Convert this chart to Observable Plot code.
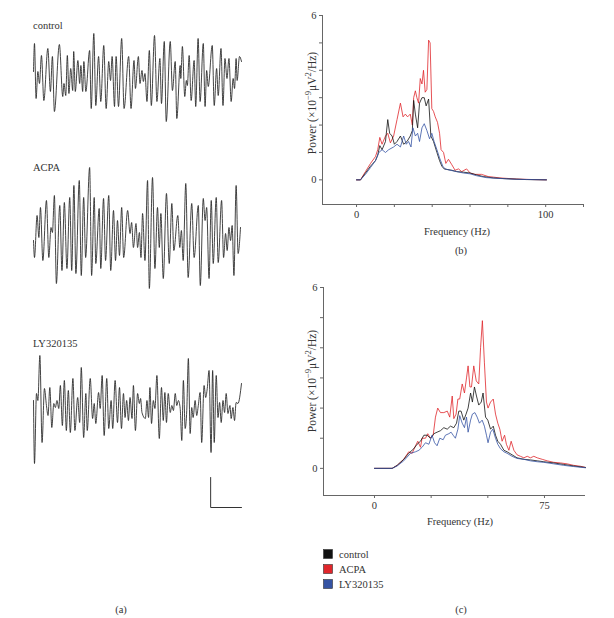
<!DOCTYPE html>
<html>
<head>
<meta charset="utf-8">
<script src="https://cdn.jsdelivr.net/npm/d3@7"></script>
<script src="https://cdn.jsdelivr.net/npm/@observablehq/plot@0.6"></script>
<style>
  html, body { margin: 0; padding: 0; background: #fff; }
  #fig { position: relative; width: 614px; height: 618px; background: #fff; overflow: hidden; }
  #fig svg { position: absolute; }
</style>
</head>
<body>
<div id="fig"></div>
<script>
// ---------------- DATA ----------------
// (a) EEG traces: time (ms, arbitrary) and amplitude (a.u.) of successive extrema
const controlT = [0,5,13,22,30,40,52,72,85,95,105,130,147,153,162,170,178,187,197,202,210,223,232,238,247,253,263,282,290,303,313,327,338,353,365,378,387,395,407,415,427,443,455,478,490,505,512,527,535,545,552,560,570,582,592,608,620,635,643,657,667,687,698,712,720,737,740,748,760,768,773,782,792,807,815,827,837,853,862,870,878,898,908,920,928,942,952,962,972,982,993,1003,1010,1018,1023,1035,1045];
const controlAmp = [6,34,-21,6,-6,22,-23,29,-14,21,-34,33,-19,-6,-18,22,-16,9,-13,26,-14,17,-6,12,-14,16,-14,27,-31,44,-28,21,-24,32,-31,16,-3,21,-29,21,-29,39,-31,21,-31,17,-11,21,-6,7,-4,4,-24,27,-28,42,-24,19,-26,36,-44,36,-13,16,-41,12,-1,31,-19,-3,-8,22,-23,17,-29,39,-24,34,-29,7,-9,32,-28,9,-18,29,-28,19,-1,19,-24,-1,-11,19,-3,21,16];

const acpaT = [0,5,18,27,35,47,65,77,88,95,105,115,132,143,155,168,182,192,203,213,230,240,252,262,282,292,305,313,330,338,352,362,378,388,402,412,422,432,443,453,473,485,493,502,515,523,532,540,548,560,573,582,598,610,623,632,640,652,668,682,695,705,725,735,743,752,765,777,795,807,828,838,853,862,870,882,893,903,918,928,945,955,965,973,982,990,998,1007,1018,1028,1040];
const acpaAmp = [-12,-29,13,-9,21,-32,28,-29,1,-4,33,-55,23,-42,26,-40,31,-42,43,-45,48,-47,31,-29,61,-47,31,-35,20,-40,30,-32,33,-42,18,-32,8,-27,21,-29,18,-5,6,-19,5,-19,-4,-29,15,-32,48,-60,51,-40,21,-19,15,-50,35,-35,25,-22,13,-19,-2,-32,45,-49,25,-29,23,-57,30,8,21,-50,28,-35,31,-34,28,-29,-5,-22,1,-12,3,-47,43,-25,1];

const lyT = [0,5,15,22,32,43,55,65,73,82,92,102,110,118,127,135,145,155,165,175,185,198,208,222,232,240,252,263,270,285,297,305,313,327,335,345,355,368,378,390,398,410,422,432,442,452,460,468,477,485,495,502,512,523,532,538,545,562,570,578,585,593,602,610,620,632,643,652,660,668,677,687,695,703,712,720,728,737,745,753,762,770,778,787,795,802,812,820,828,837,845,857,865,873,882,892,900,908,918,927,935,943,952,960,968,977,987,993,1002,1010,1018,1027,1045];
const lyAmp = [7,-56,14,7,52,-35,19,2,-8,20,-20,4,0,7,-1,22,-18,27,-23,17,-25,29,-23,10,-15,40,-30,14,-23,29,-11,4,-16,15,-1,32,-28,29,-21,7,-21,27,-15,20,-21,14,-10,7,-13,10,-11,22,-23,14,4,9,-5,-11,7,-10,20,-16,7,-1,32,-31,20,-13,15,-15,14,-5,2,-3,14,2,7,-1,-33,27,-21,-3,49,-26,0,-10,7,-8,2,15,-35,22,10,19,37,-45,37,-35,32,-10,5,-15,7,-5,14,-6,2,-11,0,-13,5,4,24];

const scaleBarTime = 155;   // ms
const scaleBarAmp = 30;     // a.u.

// (b) power spectra
const bRedHz = [0,2.1,4.7,7.4,10,11.2,12.3,13.5,15.3,16.5,17.9,19.6,21.4,23.2,24.6,25.8,27,28.4,29.5,30.2,31.1,31.9,32.8,33.7,34.6,35.4,36.3,37.2,38.1,38.9,39.8,40.7,41.6,42.8,43.9,44.7,46,47.2,48.6,50.4,52.1,53.9,55.6,58.2,60,62.6,66.1,69.6,72.3,75.8,84.6,93.3,100.4];
const bRed   = [0,0,0.3,0.6,0.85,1.1,1.55,1.3,1.6,1.7,1.35,1.6,2.2,2.8,2.3,2.4,2.3,2.4,2.0,3.0,3.25,3.0,2.8,3.7,3.5,4.0,3.2,3.3,5.1,5.0,2.6,2.5,2.3,2.1,1.7,1.1,1.0,0.6,0.75,0.55,0.35,0.4,0.3,0.4,0.25,0.2,0.2,0.12,0.1,0.07,0.03,0.01,0];
const bBlackHz = [0,2.1,4.7,7.4,10,11.2,12.3,13.5,15.3,16.5,17.5,18.8,20,21.4,23.2,24.9,26.7,28.4,29.5,30.2,31.1,32.3,33.3,34.6,35.8,36.8,38.1,39.3,40.7,42.5,43.9,45.1,46.3,47.7,50.4,53,56.5,60,63.5,67,72.3,79.3,89.8,100.4];
const bBlack   = [0,0,0.25,0.5,0.7,0.9,1.25,1.1,1.4,2.2,1.7,1.6,1.3,1.4,1.6,1.3,1.4,1.6,1.8,2.9,2.4,1.9,2.8,3.0,3.0,2.7,2.95,1.6,1.4,1.0,0.7,0.5,0.4,0.38,0.35,0.3,0.28,0.25,0.18,0.12,0.07,0.04,0.01,0];
const bBlueHz = [0,2.1,4.7,7.4,10,11.8,13.5,15.3,17,19.6,21.4,23.2,24.9,26.3,27.5,28.8,29.8,31.1,32.3,33.3,34.6,35.8,37.2,38.6,39.8,41,42.5,43.9,45.6,46.8,49.5,53,56.5,60,63.5,68.8,75.8,84.6,100.4];
const bBlue   = [0,0,0.2,0.45,0.7,1.0,1.1,1.0,1.1,1.2,1.3,1.2,1.6,1.3,1.4,1.2,1.9,1.6,1.7,1.4,1.9,2.05,1.8,1.5,1.7,1.4,1.1,0.8,0.5,0.4,0.35,0.3,0.25,0.22,0.15,0.08,0.05,0.02,0];

// (c) power spectra
const cRedHz = [0,7.8,10,12.9,15.1,16.6,18.1,19.1,20.3,21,22.5,23.5,24.7,25.9,26.9,27.9,29.1,30.6,32.1,33.2,34.3,35,36,36.8,37.6,38.7,39.7,40.6,41.3,42.1,42.8,43.8,44.9,46,46.8,47.6,48.5,49.4,50.1,51.2,52.4,53.4,54.4,55.3,56.3,57.4,58.2,59.3,60.3,61.5,62.9,64.4,65.9,67.4,68.8,70.3,71.8,74,76.2,79.1,82.1,85,87.9,90.9,93.1];
const cRed   = [0,0,0.1,0.3,0.55,0.5,0.75,0.9,0.7,1.0,1.0,1.15,1.0,1.1,1.7,2.0,1.85,1.85,1.9,1.7,2.4,1.65,1.8,2.3,2.3,2.8,2.5,3.0,3.4,2.7,2.7,3.4,2.9,2.8,4.0,4.9,3.5,2.2,2.0,2.2,2.3,1.8,1.5,1.3,0.9,1.1,0.8,0.6,0.9,0.6,0.45,0.4,0.35,0.4,0.35,0.4,0.35,0.3,0.25,0.2,0.18,0.15,0.1,0.07,0.03];
const cBlackHz = [0,7.8,10,12.9,15.1,17.3,18.8,20.3,21.8,23.2,24.7,26.2,27.6,29.1,30.6,32.1,33.5,35,36.2,37.2,38.2,39.4,40.4,41.3,42.4,43.2,44.1,45,46,47.1,47.9,49,50,51.2,52.4,53.4,54.4,55.6,57.1,58.5,60.7,62.9,65.9,68.8,71.8,74.7,79.1,83.5,87.9,93.1];
const cBlack   = [0,0,0.1,0.3,0.5,0.65,0.8,0.9,1.1,1.1,1.0,1.15,1.2,1.25,1.35,1.3,1.4,1.35,1.5,1.9,1.9,1.6,1.8,2.0,2.5,2.2,2.7,2.4,2.1,2.2,2.5,1.7,1.6,1.3,1.4,1.1,0.9,0.8,0.6,0.55,0.45,0.35,0.3,0.28,0.25,0.22,0.18,0.13,0.08,0.03];
const cBlueHz = [0,7.8,10,12.9,15.9,18.1,19.6,21,22.5,24,25.4,26.5,27.6,28.8,30.3,31.3,32.8,33.8,34.7,35.7,36.8,37.6,38.7,39.7,40.6,41.3,42.4,43.2,44.3,45.3,46.3,47.5,48.5,49.4,50.1,51.2,52.2,53.4,54.4,55.6,57.1,58.5,60.7,62.9,65.9,68.8,71.8,74.7,79.1,83.5,87.9,93.1];
const cBlue   = [0,0,0.08,0.25,0.5,0.55,0.6,0.7,0.85,0.8,1.1,0.85,0.75,1.0,0.95,1.1,1.15,1.2,1.1,1.0,1.3,1.75,1.5,1.35,1.7,1.2,1.6,1.8,1.85,1.7,1.5,1.6,1.4,1.1,0.85,1.2,1.3,1.0,0.8,0.65,0.55,0.5,0.4,0.33,0.3,0.25,0.22,0.2,0.15,0.1,0.06,0.02];

// axes / labels
const yTicks = [0,1,2,3,4,5,6];
const yTickLabels = [0,6];
const bXTicks = [0,20,40,60,80,100,120];
const bXTickLabels = [0,100];
const cXTicks = [0,25,50,75];
const cXTickLabels = [0,75];
const traceNames = ["control","ACPA","LY320135"];
const seriesNames = ["control","ACPA","LY320135"];
const seriesColors = ["#111111","#e0262b","#3553a3"];
// y label pieces: [text, superscript?]
const yLabelParts = [["Power (×10", false], ["−9", true], ["μV", false], ["2", true], ["/Hz)", false]];
const xLabel = "Frequency (Hz)";
const panelLetters = ["(a)","(b)","(c)"];

// ---------------- DRAW ----------------
const fig = document.getElementById("fig");
const FONT = "'Liberation Serif', 'DejaVu Serif', serif";
const TMAX = 1045;

function trace(t, a, top, yMin, yMax, extra = []) {
  const data = t.map((ti, i) => ({t: ti, a: a[i]}));
  const svg = Plot.plot({
    width: 208, height: yMax - yMin, margin: 0,
    x: {domain: [0, TMAX], axis: null},
    y: {domain: [yMin, yMax], axis: null},
    style: {overflow: "visible", background: "transparent"},
    marks: [
      Plot.line(data, {x: "t", y: "a", curve: "monotone-x", stroke: "#222", strokeWidth: 0.85}),
      ...extra
    ]
  });
  svg.style.left = "33px";
  svg.style.top = top + "px";
  fig.appendChild(svg);
}

trace(controlT, controlAmp, 12, -65, 65);
trace(acpaT, acpaAmp, 153, -75, 75);
const barBase = -100;
const barPts = [
  {t: TMAX - scaleBarTime, a: barBase + scaleBarAmp},
  {t: TMAX - scaleBarTime, a: barBase},
  {t: TMAX, a: barBase}
];
trace(lyT, lyAmp, 347, -103, 60, [
  Plot.line(barPts, {x: "t", y: "a", stroke: "#333", strokeWidth: 1})
]);

function spectrum(o) {
  const mk = (hz, v) => hz.map((h, i) => ({hz: h, v: v[i]}));
  const svg = Plot.plot({
    width: o.width, height: o.height,
    marginLeft: o.ml, marginRight: o.mr, marginTop: o.mt, marginBottom: o.mb,
    x: {domain: o.xDomain},
    y: {domain: o.yDomain},
    style: {overflow: "visible", background: "transparent", fontFamily: FONT, fontSize: "10.5px", color: "#333"},
    marks: [
      Plot.ruleX([o.xDomain[0]], {stroke: "#666", strokeWidth: 1}),
      Plot.ruleY([o.yDomain[0]], {stroke: "#666", strokeWidth: 1}),
      Plot.axisY({ticks: yTicks, tickSize: 3, tickPadding: 3, stroke: "#666",
        tickFormat: d => yTickLabels.includes(d) ? String(d) : "", label: null}),
      Plot.axisX({ticks: o.xTicks, tickSize: 3, tickPadding: 3, stroke: "#666",
        tickFormat: d => o.xLabels.includes(d) ? String(d) : "", label: null}),
      Plot.line(mk(o.redHz, o.red), {x: "hz", y: "v", stroke: seriesColors[1], strokeWidth: 0.8}),
      Plot.line(mk(o.blackHz, o.black), {x: "hz", y: "v", stroke: seriesColors[0], strokeWidth: 0.8}),
      Plot.line(mk(o.blueHz, o.blue), {x: "hz", y: "v", stroke: seriesColors[2], strokeWidth: 0.8})
    ]
  });
  svg.style.left = o.left + "px";
  svg.style.top = o.top + "px";
  fig.appendChild(svg);
}

spectrum({left: 290, top: 0, width: 300, height: 234, ml: 32, mr: 7, mt: 15, mb: 30,
  xDomain: [-18, 120], yDomain: [-0.9, 6], xTicks: bXTicks, xLabels: bXTickLabels,
  redHz: bRedHz, red: bRed, blackHz: bBlackHz, black: bBlack, blueHz: bBlueHz, blue: bBlue});

spectrum({left: 290, top: 270, width: 300, height: 255, ml: 33, mr: 5, mt: 17, mb: 30,
  xDomain: [-22.5, 93.1], yDomain: [-0.9, 6], xTicks: cXTicks, xLabels: cXTickLabels,
  redHz: cRedHz, red: cRed, blackHz: cBlackHz, black: cBlack, blueHz: cBlueHz, blue: cBlue});

// text overlay
const ov = d3.select(fig).append("svg")
  .attr("width", 614).attr("height", 618)
  .style("left", "0px").style("top", "0px")
  .style("pointer-events", "none")
  .attr("font-family", FONT).attr("fill", "#333");

const traceLabelPos = [[33, 29], [33, 171], [33, 347]];
traceNames.forEach((n, i) => {
  ov.append("text").attr("x", traceLabelPos[i][0]).attr("y", traceLabelPos[i][1])
    .attr("font-size", 10.5).text(n);
});

[[457, 235], [460, 525]].forEach(([x, y]) => {
  ov.append("text").attr("x", x).attr("y", y).attr("text-anchor", "middle")
    .attr("font-size", 10.5).text(xLabel);
});
[[312, 103], [312, 381]].forEach(([x, y]) => {
  const t = ov.append("text").attr("transform", `translate(${x},${y}) rotate(-90)`)
    .attr("text-anchor", "middle").attr("dy", "0.35em")
    .attr("font-size", 11.5);
  yLabelParts.forEach(([s, sup]) => {
    const ts = t.append("tspan").text(s);
    if (sup) ts.attr("font-size", 8.5).attr("baseline-shift", "super");
  });
});
[[121, 613], [461, 254], [461, 613]].forEach(([x, y], i) => {
  ov.append("text").attr("x", x).attr("y", y).attr("text-anchor", "middle")
    .attr("font-size", 10.5).text(panelLetters[i]);
});

// legend
seriesNames.forEach((n, i) => {
  const y = 549 + i * 15;
  ov.append("rect").attr("x", 323.5).attr("y", y + 0.5).attr("width", 9).attr("height", 9)
    .attr("fill", seriesColors[i]).attr("stroke", "#333").attr("stroke-width", 0.6);
  ov.append("text").attr("x", 339).attr("y", y + 8.5).attr("font-size", 10.5).text(n);
});
</script>
</body>
</html>
